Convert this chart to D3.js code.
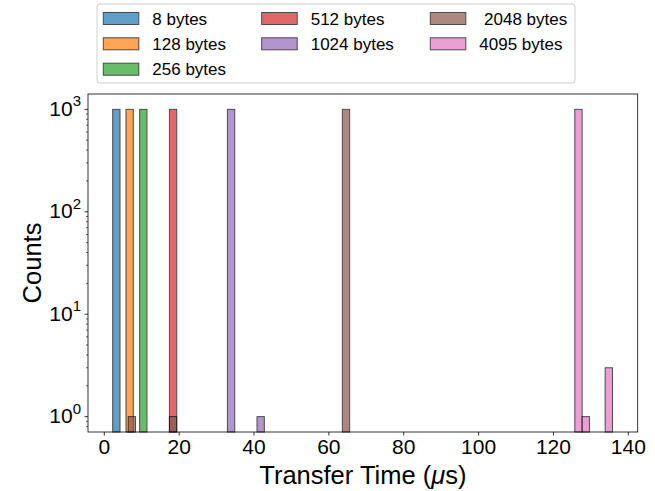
<!DOCTYPE html>
<html>
<head>
<meta charset="utf-8">
<script src="https://cdn.jsdelivr.net/npm/d3@7"></script>
<style>
  body { margin: 0; background: #fff; }
  svg { font-family: "Liberation Sans", Arial, sans-serif; }
  .tick-label { font-size: 21px; fill: #000; }
  .axis-title { font-size: 25.5px; fill: #000; }
  .legend-text { font-size: 17px; fill: #000; white-space: pre; }
</style>
</head>
<body>
<div id="chart"></div>
<script>
// Histogram of transfer times, one series per payload size (log count axis)

const seriesNames  = ["8 bytes", "128 bytes", "256 bytes", "512 bytes", "1024 bytes", " 2048 bytes", "4095 bytes"];
const seriesColors = ["#1f77b4", "#ff7f0e", "#2ca02c", "#d62728", "#9467bd", "#8c564b", "#e377c2"];

// bin left edges (µs) and counts per series
const binStarts = [
  [2.25],
  [5.8],
  [9.45],
  [17.4],
  [32.9, 40.8],
  [6.4, 17.4, 63.6],
  [125.7, 127.65, 133.8]
];
const binCounts = [
  [1000],
  [1000],
  [1000],
  [1000],
  [1000, 1],
  [1, 1, 1000],
  [1000, 1, 3]
];
const binWidth = 1.95;

const xTicks = [0, 20, 40, 60, 80, 100, 120, 140];
const yTicks = [1, 10, 100, 1000];

const W = 655, H = 491;
const plot = { left: 88, right: 637.7, top: 94, bottom: 432 };

const svg = d3.select("#chart").append("svg")
  .attr("width", W)
  .attr("height", H);

// SCALES
const x = d3.scaleLinear()
  .domain([-4.35, 142.5])
  .range([plot.left, plot.right]);

const y = d3.scaleLog()
  .domain([Math.pow(10, -0.15), Math.pow(10, 3.15)])
  .range([plot.bottom, plot.top]);

// BARS
const bars = [];
seriesNames.forEach((name, i) => {
  binStarts[i].forEach((x0, j) => {
    bars.push({ series: i, x0, x1: x0 + binWidth, count: binCounts[i][j] });
  });
});

svg.append("g")
  .selectAll("rect")
  .data(bars)
  .join("rect")
  .attr("x", d => x(d.x0))
  .attr("width", d => x(d.x1) - x(d.x0))
  .attr("y", d => y(d.count))
  .attr("height", d => plot.bottom - y(d.count))
  .attr("fill", d => seriesColors[d.series])
  .attr("stroke", "#000")
  .attr("stroke-width", 1)
  .attr("opacity", 0.7);

// X AXIS
const xAxis = svg.append("g");
xAxis.selectAll("line")
  .data(xTicks)
  .join("line")
  .attr("x1", d => x(d)).attr("x2", d => x(d))
  .attr("y1", plot.bottom).attr("y2", plot.bottom + 3.5)
  .attr("stroke", "#000").attr("stroke-width", 0.8);
xAxis.selectAll("text")
  .data(xTicks)
  .join("text")
  .attr("class", "tick-label")
  .attr("x", d => x(d))
  .attr("y", plot.bottom + 21.5)
  .attr("text-anchor", "middle")
  .text(d => d);

// Y AXIS (log, with minor ticks)
const yAxis = svg.append("g");
const minor = [];
for (let e = -1; e <= 3; e++) {
  for (let m = 2; m <= 9; m++) {
    const v = m * Math.pow(10, e);
    if (v > y.domain()[0] && v < y.domain()[1]) minor.push(v);
  }
}
yAxis.selectAll("line.minor")
  .data(minor)
  .join("line")
  .attr("class", "minor")
  .attr("x1", plot.left - 2).attr("x2", plot.left)
  .attr("y1", d => y(d)).attr("y2", d => y(d))
  .attr("stroke", "#000").attr("stroke-width", 0.6);
yAxis.selectAll("line.major")
  .data(yTicks)
  .join("line")
  .attr("class", "major")
  .attr("x1", plot.left - 3.5).attr("x2", plot.left)
  .attr("y1", d => y(d)).attr("y2", d => y(d))
  .attr("stroke", "#000").attr("stroke-width", 0.8);

const yLabels = yAxis.selectAll("text")
  .data(yTicks)
  .join("text")
  .attr("class", "tick-label")
  .attr("x", plot.left - 7)
  .attr("y", d => y(d) + 6.5)
  .attr("text-anchor", "end");
yLabels.append("tspan").text("10");
yLabels.append("tspan")
  .attr("dy", -9.5)
  .style("font-size", "15px")
  .text(d => Math.round(Math.log10(d)));

// FRAME
svg.append("rect")
  .attr("x", plot.left).attr("y", plot.top)
  .attr("width", plot.right - plot.left)
  .attr("height", plot.bottom - plot.top)
  .attr("fill", "none")
  .attr("stroke", "#000")
  .attr("stroke-width", 0.8);

// AXIS TITLES
const xTitle = svg.append("text")
  .attr("class", "axis-title")
  .attr("x", (plot.left + plot.right) / 2)
  .attr("y", 484)
  .attr("text-anchor", "middle");
xTitle.append("tspan").text("Transfer Time (");
xTitle.append("tspan").style("font-style", "italic").text("\u03bc");
xTitle.append("tspan").text("s)");

svg.append("text")
  .attr("class", "axis-title")
  .attr("transform", `translate(41,${(plot.top + plot.bottom) / 2}) rotate(-90)`)
  .attr("text-anchor", "middle")
  .text("Counts");

// LEGEND (3 columns, column-major)
const legend = svg.append("g");
legend.append("rect")
  .attr("x", 97).attr("y", 4)
  .attr("width", 478).attr("height", 79)
  .attr("rx", 3)
  .attr("fill", "#fff")
  .attr("stroke", "#d0d0d0")
  .attr("stroke-width", 1);

const colX = [103.3, 261.7, 430.3];
const colOf = [0, 0, 0, 1, 1, 2, 2];
const rowOf = [0, 1, 2, 0, 1, 0, 1];
const rowY = [18.5, 43.8, 69.2];

seriesNames.forEach((name, i) => {
  const lx = colX[colOf[i]], ly = rowY[rowOf[i]];
  legend.append("rect")
    .attr("x", lx).attr("y", ly - 6)
    .attr("width", 35.5).attr("height", 12)
    .attr("fill", seriesColors[i])
    .attr("stroke", "#000")
    .attr("stroke-width", 1)
    .attr("opacity", 0.7);
  legend.append("text")
    .attr("class", "legend-text")
    .attr("x", lx + 49)
    .attr("y", ly + 6)
    .text(name);
});
</script>
</body>
</html>
